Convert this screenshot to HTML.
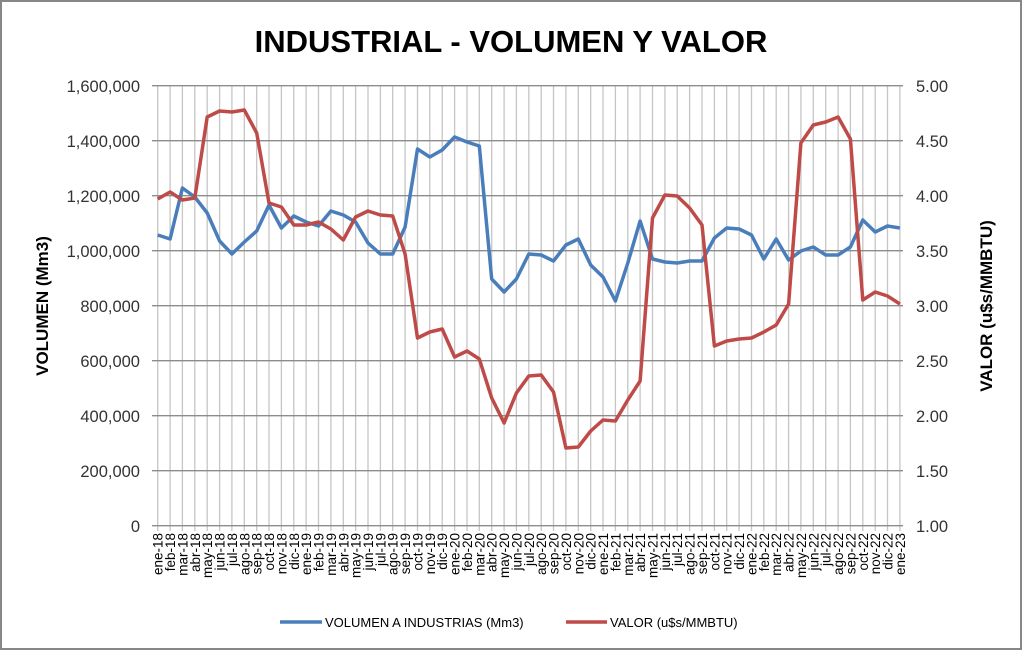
<!DOCTYPE html>
<html><head><meta charset="utf-8"><style>
html,body{margin:0;padding:0;background:#fff}
svg{display:block;font-family:"Liberation Sans",Arial,sans-serif}
</style></head><body>
<svg width="1023" height="651" viewBox="0 0 1023 651" xmlns="http://www.w3.org/2000/svg">
<rect x="1" y="1" width="1020" height="648" fill="#fff" stroke="#878787" stroke-width="2"/>
<text x="511" y="52" text-anchor="middle" font-size="31" font-weight="bold" fill="#000">INDUSTRIAL - VOLUMEN Y VALOR</text>
<g stroke="#c6c6c6" stroke-width="1.3">
<path d="M157.7 86V531M170.1 86V531M182.4 86V531M194.8 86V531M207.2 86V531M219.6 86V531M231.9 86V531M244.3 86V531M256.7 86V531M269.0 86V531M281.4 86V531M293.8 86V531M306.1 86V531M318.5 86V531M330.9 86V531M343.3 86V531M355.6 86V531M368.0 86V531M380.4 86V531M392.7 86V531M405.1 86V531M417.5 86V531M429.8 86V531M442.2 86V531M454.6 86V531M467.0 86V531M479.3 86V531M491.7 86V531M504.1 86V531M516.4 86V531M528.8 86V531M541.2 86V531M553.5 86V531M565.9 86V531M578.3 86V531M590.7 86V531M603.0 86V531M615.4 86V531M627.8 86V531M640.1 86V531M652.5 86V531M664.9 86V531M677.2 86V531M689.6 86V531M702.0 86V531M714.4 86V531M726.7 86V531M739.1 86V531M751.5 86V531M763.8 86V531M776.2 86V531M788.6 86V531M800.9 86V531M813.3 86V531M825.7 86V531M838.1 86V531M850.4 86V531M862.8 86V531M875.2 86V531M887.5 86V531M899.9 86V531"/>
</g>
<g stroke="#8c8c8c" stroke-width="1.3">
<path d="M152 85.7H903M152 140.7H903M152 195.7H903M152 250.7H903M152 305.7H903M152 360.7H903M152 415.7H903M152 470.7H903M152 525.7H903"/>
</g>
<g font-size="16.5" fill="#333" text-anchor="end">
<text x="140" y="92">1,600,000</text>
<text x="140" y="147">1,400,000</text>
<text x="140" y="202">1,200,000</text>
<text x="140" y="257">1,000,000</text>
<text x="140" y="312">800,000</text>
<text x="140" y="367">600,000</text>
<text x="140" y="422">400,000</text>
<text x="140" y="477">200,000</text>
<text x="140" y="532">0</text>
</g>
<g font-size="16.5" fill="#333" text-anchor="start">
<text x="916" y="92">5.00</text>
<text x="916" y="147">4.50</text>
<text x="916" y="202">4.00</text>
<text x="916" y="257">3.50</text>
<text x="916" y="312">3.00</text>
<text x="916" y="367">2.50</text>
<text x="916" y="422">2.00</text>
<text x="916" y="477">1.50</text>
<text x="916" y="532">1.00</text>
</g>
<text transform="translate(48,306) rotate(-90)" text-anchor="middle" font-size="17" font-weight="bold" fill="#000">VOLUMEN (Mm3)</text>
<text transform="translate(992,306) rotate(-90)" text-anchor="middle" font-size="17" font-weight="bold" fill="#000">VALOR (u$s/MMBTU)</text>
<g font-size="13.5" fill="#000" text-anchor="end">
<text transform="translate(162.7,533) rotate(-90)">ene-18</text>
<text transform="translate(175.1,533) rotate(-90)">feb-18</text>
<text transform="translate(187.4,533) rotate(-90)">mar-18</text>
<text transform="translate(199.8,533) rotate(-90)">abr-18</text>
<text transform="translate(212.2,533) rotate(-90)">may-18</text>
<text transform="translate(224.6,533) rotate(-90)">jun-18</text>
<text transform="translate(236.9,533) rotate(-90)">jul-18</text>
<text transform="translate(249.3,533) rotate(-90)">ago-18</text>
<text transform="translate(261.7,533) rotate(-90)">sep-18</text>
<text transform="translate(274.0,533) rotate(-90)">oct-18</text>
<text transform="translate(286.4,533) rotate(-90)">nov-18</text>
<text transform="translate(298.8,533) rotate(-90)">dic-18</text>
<text transform="translate(311.1,533) rotate(-90)">ene-19</text>
<text transform="translate(323.5,533) rotate(-90)">feb-19</text>
<text transform="translate(335.9,533) rotate(-90)">mar-19</text>
<text transform="translate(348.3,533) rotate(-90)">abr-19</text>
<text transform="translate(360.6,533) rotate(-90)">may-19</text>
<text transform="translate(373.0,533) rotate(-90)">jun-19</text>
<text transform="translate(385.4,533) rotate(-90)">jul-19</text>
<text transform="translate(397.7,533) rotate(-90)">ago-19</text>
<text transform="translate(410.1,533) rotate(-90)">sep-19</text>
<text transform="translate(422.5,533) rotate(-90)">oct-19</text>
<text transform="translate(434.8,533) rotate(-90)">nov-19</text>
<text transform="translate(447.2,533) rotate(-90)">dic-19</text>
<text transform="translate(459.6,533) rotate(-90)">ene-20</text>
<text transform="translate(472.0,533) rotate(-90)">feb-20</text>
<text transform="translate(484.3,533) rotate(-90)">mar-20</text>
<text transform="translate(496.7,533) rotate(-90)">abr-20</text>
<text transform="translate(509.1,533) rotate(-90)">may-20</text>
<text transform="translate(521.4,533) rotate(-90)">jun-20</text>
<text transform="translate(533.8,533) rotate(-90)">jul-20</text>
<text transform="translate(546.2,533) rotate(-90)">ago-20</text>
<text transform="translate(558.5,533) rotate(-90)">sep-20</text>
<text transform="translate(570.9,533) rotate(-90)">oct-20</text>
<text transform="translate(583.3,533) rotate(-90)">nov-20</text>
<text transform="translate(595.7,533) rotate(-90)">dic-20</text>
<text transform="translate(608.0,533) rotate(-90)">ene-21</text>
<text transform="translate(620.4,533) rotate(-90)">feb-21</text>
<text transform="translate(632.8,533) rotate(-90)">mar-21</text>
<text transform="translate(645.1,533) rotate(-90)">abr-21</text>
<text transform="translate(657.5,533) rotate(-90)">may-21</text>
<text transform="translate(669.9,533) rotate(-90)">jun-21</text>
<text transform="translate(682.2,533) rotate(-90)">jul-21</text>
<text transform="translate(694.6,533) rotate(-90)">ago-21</text>
<text transform="translate(707.0,533) rotate(-90)">sep-21</text>
<text transform="translate(719.4,533) rotate(-90)">oct-21</text>
<text transform="translate(731.7,533) rotate(-90)">nov-21</text>
<text transform="translate(744.1,533) rotate(-90)">dic-21</text>
<text transform="translate(756.5,533) rotate(-90)">ene-22</text>
<text transform="translate(768.8,533) rotate(-90)">feb-22</text>
<text transform="translate(781.2,533) rotate(-90)">mar-22</text>
<text transform="translate(793.6,533) rotate(-90)">abr-22</text>
<text transform="translate(805.9,533) rotate(-90)">may-22</text>
<text transform="translate(818.3,533) rotate(-90)">jun-22</text>
<text transform="translate(830.7,533) rotate(-90)">jul-22</text>
<text transform="translate(843.1,533) rotate(-90)">ago-22</text>
<text transform="translate(855.4,533) rotate(-90)">sep-22</text>
<text transform="translate(867.8,533) rotate(-90)">oct-22</text>
<text transform="translate(880.2,533) rotate(-90)">nov-22</text>
<text transform="translate(892.5,533) rotate(-90)">dic-22</text>
<text transform="translate(904.9,533) rotate(-90)">ene-23</text>
</g>
<polyline fill="none" stroke="#4a7ebb" stroke-width="3.5" stroke-linejoin="round" points="157.7,235 170.1,239 182.4,188 194.8,197 207.2,213 219.6,241 231.9,254 244.3,242 256.7,231 269.0,205 281.4,228 293.8,216 306.1,222 318.5,226 330.9,211 343.3,215 355.6,222 368.0,243 380.4,254 392.7,254 405.1,227 417.5,149 429.8,157 442.2,150 454.6,137 467.0,142 479.3,146 491.7,279 504.1,292 516.4,279 528.8,254 541.2,255 553.5,261 565.9,245 578.3,239 590.7,265 603.0,277 615.4,301 627.8,263 640.1,221 652.5,259 664.9,262 677.2,263 689.6,261 702.0,261 714.4,238 726.7,228 739.1,229 751.5,235 763.8,259 776.2,239 788.6,260 800.9,251 813.3,247 825.7,255 838.1,255 850.4,247 862.8,220 875.2,232 887.5,226 899.9,228"/>
<polyline fill="none" stroke="#be4b48" stroke-width="3.5" stroke-linejoin="round" points="157.7,199 170.1,192 182.4,200 194.8,198 207.2,117 219.6,111 231.9,112 244.3,110 256.7,133 269.0,203 281.4,207 293.8,225 306.1,225 318.5,222 330.9,229 343.3,240 355.6,217 368.0,211 380.4,215 392.7,216 405.1,254 417.5,338 429.8,332 442.2,329 454.6,357 467.0,351 479.3,359 491.7,398 504.1,423 516.4,393 528.8,376 541.2,375 553.5,392 565.9,448 578.3,447 590.7,431 603.0,420 615.4,421 627.8,400 640.1,381 652.5,218 664.9,195 677.2,196 689.6,208 702.0,225 714.4,346 726.7,341 739.1,339 751.5,338 763.8,332 776.2,325 788.6,304 800.9,143 813.3,125 825.7,122 838.1,117 850.4,139 862.8,300 875.2,292 887.5,296 899.9,304"/>
<line x1="280" y1="622" x2="322" y2="622" stroke="#4a7ebb" stroke-width="3.5"/>
<text x="325" y="627" font-size="13" fill="#000">VOLUMEN A INDUSTRIAS (Mm3)</text>
<line x1="566" y1="622" x2="607" y2="622" stroke="#be4b48" stroke-width="3.5"/>
<text x="610" y="627" font-size="13" fill="#000">VALOR (u$s/MMBTU)</text>
</svg>
</body></html>
